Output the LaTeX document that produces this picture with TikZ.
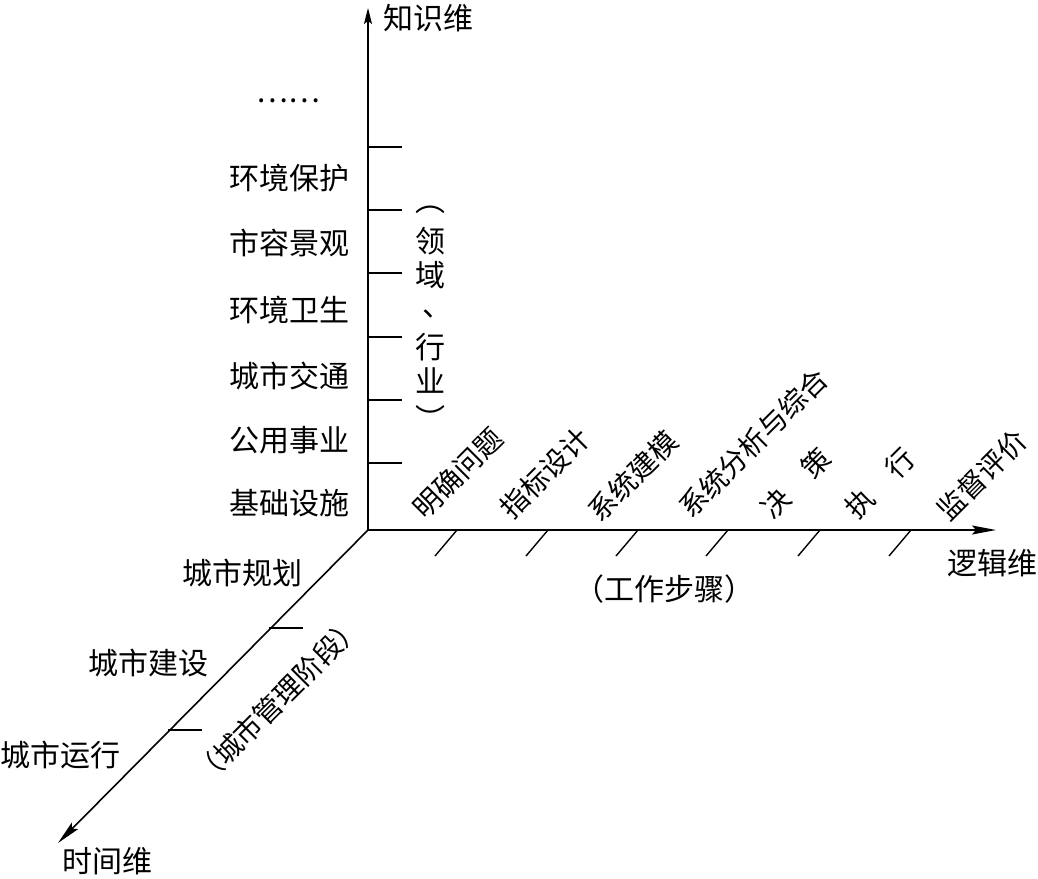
\documentclass[tikz,border=0pt]{standalone}
\usepackage{fontspec}
\setmainfont{Noto Sans CJK SC}
\newfontfamily\vertfont[RawFeature=+vert]{Noto Sans CJK SC}
\usetikzlibrary{arrows.meta}
\begin{document}
\begin{tikzpicture}[x=1pt,y=-1pt,
  axis/.style={line width=1.6pt, -{Stealth[length=24pt,width=9pt,inset=4pt]}},
  vaxis/.style={line width=1.6pt, -{Stealth[length=16pt,width=8pt,inset=3pt]}},
  tickline/.style={line width=1.4pt},
  lab/.style={font=\fontsize{30}{34}\selectfont, inner sep=0pt},
  rlab/.style={font=\fontsize{28}{32}\selectfont, inner sep=0pt, rotate=45},
  vch/.style={font=\fontsize{30}{34}\selectfont, inner sep=0pt, text height=26pt, text depth=4pt},
  vpar/.style={font=\fontsize{30}{34}\selectfont\vertfont, inner sep=0pt},
]
\useasboundingbox (0,0) rectangle (1038,878);
% axes
\coordinate (O) at (368,530);
\coordinate (Ytop) at (368,8);
\coordinate (Xend) at (996,530);
\coordinate (Zend) at (58,843);
\draw[vaxis] (O) -- (Ytop);
\draw[axis] (O) -- (Xend);
\draw[axis] (O) -- (Zend);
% axis names
\node[lab] (kn) at (428,18) {知识维};
\node[lab] (lg) at (992,563) {逻辑维};
\node[lab] (tm) at (107,861) {时间维};
% vertical ticks
\foreach \y [count=\i] in {147,210,273,337,400,463}{
  \coordinate (vt\i) at (368,\y);
  \draw[tickline] (vt\i) -- ++(34,0);
}
% vertical labels
\node[lab] (k0) at (288,101) {……};
\node[lab] (k1) at (289,178) {环境保护};
\node[lab] (k2) at (289,243) {市容景观};
\node[lab] (k3) at (289,310) {环境卫生};
\node[lab] (k4) at (289,376) {城市交通};
\node[lab] (k5) at (289,440) {公用事业};
\node[lab] (k6) at (289,503) {基础设施};
% vertical domain label
\node[vpar] (kdL) at (430,210) {（};
\node[vch] (kd1) at (430,241) {领};
\node[vch] (kd2) at (430,275) {域};
\node[vch] (kd3) at (437,305) {、};
\node[vch] (kd4) at (430,347) {行};
\node[vch] (kd5) at (430,381) {业};
\node[vpar] (kdR) at (430,418) {）};
% horizontal ticks
\foreach \x [count=\i] in {457,548,638,728,820,911}{
  \coordinate (ht\i) at (\x,530);
  \draw[tickline] (ht\i) -- ++(-22,26);
}
% rotated labels
\node[rlab] (s1) at (458,473) {明确问题};
\node[rlab] (s2) at (545,473) {指标设计};
\node[rlab] (s3) at (633,476) {系统建模};
\node[rlab] (s4) at (753,443) {系统分析与综合};
\node[rlab] (s5) at (796,483) {决　策};
\node[rlab] (s6) at (880,483) {执　行};
\node[rlab] (s7) at (982,475) {监督评价};
\node[lab] (sd) at (664,589) {（工作步骤）};
% diagonal ticks
\coordinate (dt1) at (269,628);
\coordinate (dt2) at (168,730);
\draw[tickline] (dt1) -- ++(34,0);
\draw[tickline] (dt2) -- ++(34,0);
% diagonal labels
\node[lab] (t1) at (242,573) {城市规划};
\node[lab] (t2) at (148,663) {城市建设};
\node[lab] (t3) at (60,755) {城市运行};
\node[rlab] (td) at (278,700) {（城市管理阶段）};
\end{tikzpicture}
\end{document}
